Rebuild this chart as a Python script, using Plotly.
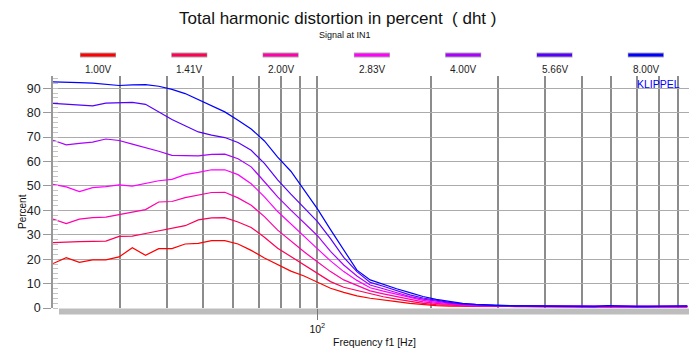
import plotly.graph_objects as go
import math

# ---------------- data ----------------
freqs = [20.0, 21.68, 23.49, 25.46, 27.59, 29.91, 32.42, 35.13, 38.08, 41.27,
         44.72, 48.47, 52.53, 56.94, 61.71, 66.87, 72.48, 78.56, 85.14, 92.28,
         100.0, 108.4, 117.5, 127.3, 138.0, 149.5, 162.1, 175.7, 190.4, 206.4,
         223.6, 242.3, 262.7, 284.7, 308.6, 334.4, 362.4, 392.8, 425.8, 461.5,
         500.0, 541.9, 587.3, 636.6, 690.0, 747.8, 810.5, 878.4, 952.1]

labels = ["1.00V", "1.41V", "2.00V", "2.83V", "4.00V", "5.66V", "8.00V"]
colors = ["#ff0000", "#ff0055", "#ff00aa", "#ff00ff", "#aa00ff", "#5500ff", "#0000ff"]

thd_100 = [18.2, 20.6, 18.7, 19.7, 19.7, 20.9, 24.7, 21.6, 24.3, 24.3, 26.2, 26.5, 27.6, 27.6, 26.2, 23.6,
           20.5, 17.8, 15.1, 13.1, 10.5, 8.1, 6.4, 5.0, 4.0, 3.2, 2.6, 1.9, 1.4, 1.0, 0.8, 0.7, 0.7, 0.6,
           0.6, 0.6, 0.6, 0.5, 0.5, 0.5, 0.5, 0.4, 0.5, 0.4, 0.4, 0.4, 0.4, 0.5, 0.5]
thd_141 = [26.8, 27.1, 27.2, 27.3, 27.4, 29.3, 29.4, 30.5, 31.6, 32.5, 33.7, 36.1, 36.9, 37.0, 35.2, 33.0,
           29.0, 24.5, 21.0, 17.6, 14.2, 10.8, 8.5, 7.2, 5.6, 4.6, 3.6, 2.6, 1.9, 1.4, 1.1, 0.9, 0.8, 0.7,
           0.7, 0.6, 0.6, 0.6, 0.5, 0.5, 0.5, 0.5, 0.5, 0.5, 0.4, 0.4, 0.5, 0.5, 0.5]
thd_200 = [36.4, 34.6, 36.4, 37.0, 37.2, 38.3, 39.5, 40.3, 43.4, 43.6, 45.2, 46.2, 47.3, 47.4, 45.1, 42.1,
           37.4, 31.9, 27.4, 23.0, 18.9, 14.9, 11.5, 9.2, 7.0, 5.8, 4.7, 3.4, 2.5, 1.9, 1.4, 1.1, 0.9, 0.8,
           0.7, 0.7, 0.7, 0.6, 0.6, 0.5, 0.5, 0.5, 0.6, 0.5, 0.5, 0.5, 0.5, 0.5, 0.6]
thd_283 = [50.6, 49.6, 47.7, 49.3, 49.7, 50.4, 49.9, 50.9, 52.1, 52.7, 54.6, 55.5, 56.6, 56.6, 54.6, 50.9,
           45.5, 39.5, 34.3, 29.3, 24.3, 19.3, 14.9, 11.3, 8.3, 6.9, 5.6, 4.1, 3.1, 2.3, 1.7, 1.3, 1.0, 0.9,
           0.8, 0.8, 0.7, 0.7, 0.6, 0.6, 0.5, 0.5, 0.7, 0.5, 0.5, 0.5, 0.5, 0.6, 0.6]
thd_400 = [68.7, 66.8, 67.4, 67.9, 69.2, 68.6, 67.1, 65.7, 64.2, 62.5, 62.3, 62.3, 62.9, 63.0, 61.1, 57.8,
           51.7, 45.5, 40.1, 35.1, 29.7, 23.2, 17.6, 13.1, 9.4, 7.9, 6.4, 4.7, 3.6, 2.7, 2.0, 1.5, 1.2, 1.0,
           0.9, 0.8, 0.8, 0.7, 0.7, 0.6, 0.6, 0.5, 0.8, 0.6, 0.5, 0.5, 0.6, 0.6, 0.7]
thd_566 = [83.8, 83.4, 83.1, 82.8, 83.9, 84.0, 84.2, 83.4, 80.4, 77.2, 74.6, 72.1, 70.8, 69.8, 67.8, 64.6,
           59.2, 52.5, 46.6, 41.2, 35.5, 28.4, 20.7, 14.9, 10.5, 8.9, 7.2, 5.4, 4.1, 3.1, 2.3, 1.7, 1.3, 1.1,
           0.9, 0.9, 0.8, 0.8, 0.7, 0.7, 0.6, 0.6, 0.9, 0.6, 0.6, 0.6, 0.6, 0.7, 0.8]
thd_800 = [92.6, 92.6, 92.3, 92.1, 91.5, 91.1, 91.4, 91.5, 90.8, 89.5, 87.8, 85.3, 83.0, 80.3, 76.9, 73.3,
           68.4, 61.8, 56.0, 48.1, 40.7, 32.1, 23.6, 15.5, 11.5, 9.6, 7.9, 6.3, 4.7, 3.5, 2.6, 1.9, 1.5, 1.2,
           1.0, 0.9, 0.9, 0.8, 0.8, 0.7, 0.6, 0.6, 1.0, 0.7, 0.6, 0.6, 0.7, 0.8, 0.9]

series = [thd_100, thd_141, thd_200, thd_283, thd_400, thd_566, thd_800]

major_x = [100]
minor_x = [20, 30, 40, 50, 60, 70, 80, 90, 200, 300, 400, 500, 600, 700, 800, 900]

# ---------------- figure ----------------
W, H = 689, 350
ML, MR, MT, MB = 53, 0, 76, 42
PW, PH = W - ML - MR, H - MT - MB

def px_x(px):
    return (px - ML) / PW

def px_y(py):
    return (H - MB - py) / PH

SANS = "Liberation Sans, Arial, sans-serif"

fig = go.Figure()
for vals, name, col in zip(series, labels, colors):
    fig.add_trace(go.Scatter(x=freqs, y=vals, mode="lines", name=name,
                             line=dict(color=col, width=1.2), showlegend=False))

shapes = []
annotations = []

# custom legend: line sample above label
for i, (name, col) in enumerate(zip(labels, colors)):
    cx = 98 + 91.3 * i
    shapes.append(dict(type="line", xref="paper", yref="paper",
                       x0=px_x(cx - 18), x1=px_x(cx + 18), y0=px_y(55), y1=px_y(55),
                       line=dict(color="#a8a8a8", width=5), layer="above"))
    shapes.append(dict(type="line", xref="paper", yref="paper",
                       x0=px_x(cx - 17.5), x1=px_x(cx + 17.5), y0=px_y(55), y1=px_y(55),
                       line=dict(color=col, width=3), layer="above"))
    annotations.append(dict(text=name, xref="paper", yref="paper",
                            x=px_x(cx), y=px_y(70), showarrow=False,
                            font=dict(family=SANS, size=10, color="#222"),
                            xanchor="center", yanchor="middle"))

# floor bar below plot
shapes.append(dict(type="rect", xref="paper", yref="paper",
                   x0=px_x(59), x1=1.0, y0=px_y(314.5), y1=px_y(308.5),
                   fillcolor="#bdbdbd", line=dict(width=0), layer="below"))

annotations += [
    dict(text="Total harmonic distortion in percent  ( dht )", xref="paper", yref="paper",
         x=px_x(337), y=px_y(18), showarrow=False,
         font=dict(family=SANS, size=17, color="#111"), xanchor="center", yanchor="middle"),
    dict(text="Signal at IN1", xref="paper", yref="paper",
         x=px_x(345), y=px_y(35), showarrow=False,
         font=dict(family=SANS, size=9, color="#111"), xanchor="center", yanchor="middle"),
    dict(text="Percent", xref="paper", yref="paper", textangle=-90,
         x=px_x(22), y=px_y(211), showarrow=False,
         font=dict(family=SANS, size=10, color="#111"), xanchor="center", yanchor="middle"),
    dict(text="Frequency f1 [Hz]", xref="paper", yref="paper",
         x=px_x(374), y=px_y(342), showarrow=False,
         font=dict(family=SANS, size=10.5, color="#111"), xanchor="center", yanchor="middle"),
    dict(text="KLIPPEL", xref="paper", yref="paper",
         x=px_x(658), y=px_y(84), showarrow=False,
         font=dict(family=SANS, size=10.5, color="#0000ff"), xanchor="center", yanchor="middle"),
]

fig.update_layout(
    width=W, height=H,
    margin=dict(l=ML, r=MR, t=MT, b=MB, pad=0),
    paper_bgcolor="white", plot_bgcolor="white",
    shapes=shapes, annotations=annotations,
    xaxis=dict(type="log", range=[math.log10(20), math.log10(962)],
               tickvals=major_x, ticktext=["10<sup>2</sup>"],
               ticks="outside", ticklen=11, tickwidth=1.3, tickcolor="#777",
               showgrid=True, gridcolor="#8c8c8c", gridwidth=1.6,
               showline=False, zeroline=False,
               tickfont=dict(family=SANS, size=10.5, color="#111"),
               minor=dict(tickvals=minor_x, showgrid=True, gridcolor="#8c8c8c",
                          gridwidth=1.6, ticks="")),
    yaxis=dict(range=[0, 95], tickvals=[0, 10, 20, 30, 40, 50, 60, 70, 80, 90],
               ticks="outside", ticklen=8, tickwidth=1, tickcolor="#999",
               showgrid=True, gridcolor="#ababab", gridwidth=1,
               showline=True, linecolor="#999", linewidth=1.6,
               zeroline=False,
               tickfont=dict(family=SANS, size=12.5, color="#222"),
               minor=dict(dtick=2, ticks="inside", ticklen=5, tickcolor="#c4c4c4",
                          tickwidth=1, showgrid=False)),
)

fig.write_html("out.html",
               config={"displayModeBar": False},
               post_script="document.body.style.margin='0';document.body.style.padding='0';")
